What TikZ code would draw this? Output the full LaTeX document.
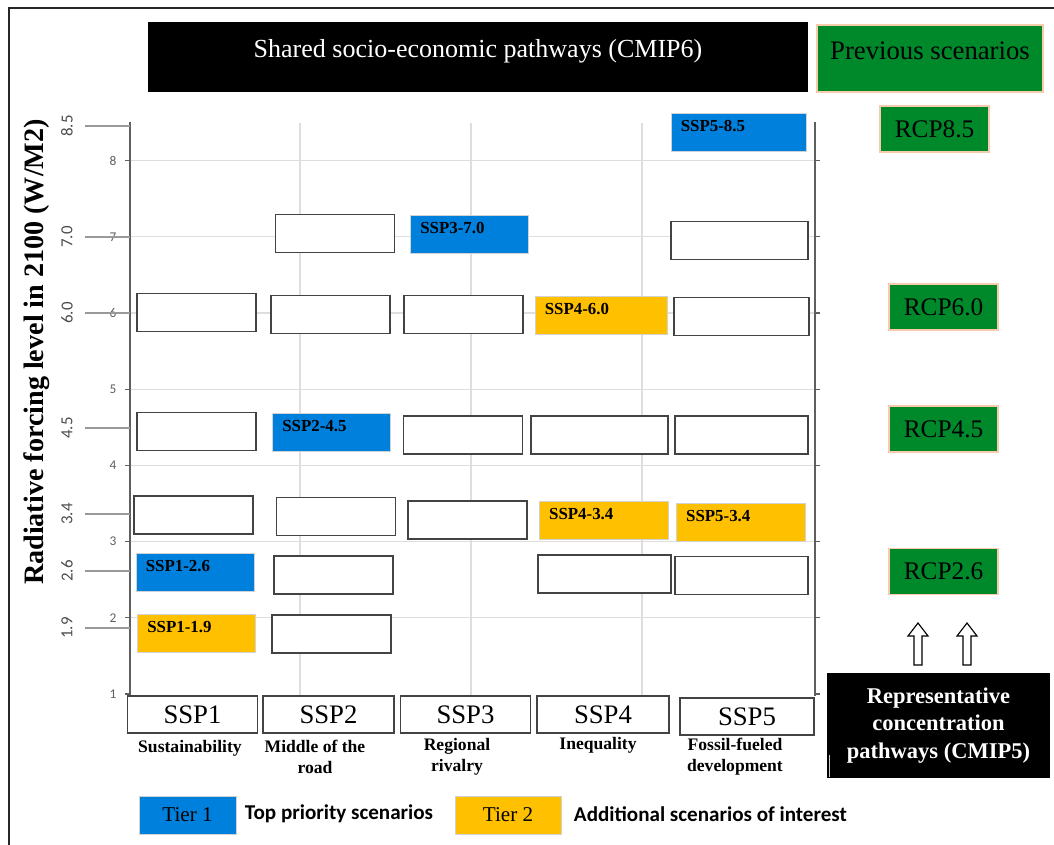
\documentclass[tikz,border=0pt]{standalone}
\usepackage{fontspec}
\setmainfont{Liberation Serif}
\newfontfamily\calibri{Carlito}
\usetikzlibrary{positioning}

\definecolor{tierblue}{RGB}{0,128,221}
\definecolor{tierorange}{RGB}{255,192,0}
\definecolor{rcpgreen}{RGB}{0,137,43}
\definecolor{peach}{RGB}{248,203,173}
\definecolor{gridgray}{RGB}{222,222,222}
\definecolor{axisgray}{RGB}{95,95,95}

\newcommand\boxfont{\fontsize{12}{14}\selectfont\bfseries}
\newcommand\sspfont{\fontsize{19}{22}\selectfont}
\newcommand\subfont{\fontsize{12.5}{15}\selectfont\bfseries}

\tikzset{
	emptybox/.style={draw=axisgray!70!black, line width=0.9pt, fill=white,
		minimum width=2.975cm, minimum height=0.95cm, inner sep=0pt},
	widebox/.style={emptybox, minimum width=3.325cm},
	tierbox/.style={draw=gray!35, line width=0.5pt, minimum height=0.95cm,
		inner xsep=7pt, text width=#1, align=left, text depth=9pt, font=\boxfont},
	tierone/.style={tierbox=#1, fill=tierblue},
	tierone/.default=70pt,
	tiertwo/.style={tierbox=#1, fill=tierorange},
	tiertwo/.default=70pt,
	sspbox/.style={draw=axisgray!70!black, line width=0.9pt, minimum width=3.25cm,
		minimum height=0.925cm, font=\sspfont},
	sublabel/.style={align=center, font=\subfont, inner sep=0pt},
	rcpbox/.style={fill=rcpgreen, draw=peach, line width=1pt, minimum width=2.725cm,
		minimum height=1.15cm, font=\fontsize{18}{21}\selectfont},
	ticklabel/.style={text=axisgray, font=\calibri\fontsize{9.5}{11}\selectfont},
	valuelabel/.style={rotate=90, text=axisgray!80!black, font=\calibri\fontsize{12}{14}\selectfont},
	valueline/.style={draw=gray!80, line width=1.1pt},
	legendtext/.style={anchor=west, font=\calibri\fontsize{15}{17}\selectfont\bfseries}
}

\begin{document}
\begin{tikzpicture}[x=0.025cm, y=-0.025cm]
	\useasboundingbox (0,0) rectangle (1054,845);

	% frame
	\draw[line width=1.8pt, black!85] (1054,8) -- (9,8) -- (9,845);

	% chart grid
	\foreach \v in {2,...,8}
		\draw[gridgray, line width=0.8pt] (130,{694-(\v-1)*76.2}) -- (815,{694-(\v-1)*76.2});
	\foreach \x in {300,471,642}
		\draw[gridgray, line width=0.8pt] (\x,123) -- (\x,695);

	% axes
	\draw[axisgray, line width=0.8pt] (130,122) -- (130,696);
	\draw[axisgray, line width=0.8pt] (815,122) -- (815,696);
	\foreach \v in {1,...,8} {
		\draw[axisgray, line width=0.8pt] (125,{694-(\v-1)*76.2}) -- (130,{694-(\v-1)*76.2});
		\draw[axisgray, line width=0.8pt] (815,{694-(\v-1)*76.2}) -- (820,{694-(\v-1)*76.2});
		\node[ticklabel] (tick\v) at (113,{694-(\v-1)*76.2}) {\v};
	}

	% forcing levels
	\foreach \v/\y [count=\i] in {8.5/126, 7.0/237, 6.0/313, 4.5/428, 3.4/514, 2.6/571, 1.9/628} {
		\draw[valueline] (85,\y) -- (130,\y);
		\node[valuelabel] (level\i) at (67,\y) {\v};
	}
	\node[rotate=90, font=\fontsize{20}{24}\selectfont\bfseries] (ytitle) at (37,352)
		{Radiative forcing level in 2100 (W/M2)};

	% header
	\node[fill=black, text=white, minimum width=16.5cm, minimum height=1.75cm,
		text depth=12pt, font=\fontsize{18.5}{22}\selectfont] (cmip6) at (478,57)
		{Shared socio-economic pathways (CMIP6)};
	\node[rcpbox, minimum width=5.65cm, minimum height=1.675cm, text depth=10.5pt,
		font=\fontsize{19}{22}\selectfont] (prev) at (930,58.5) {Previous scenarios};

	% SSP1
	\node[emptybox] (s1-60) at (196.5,312.5) {};
	\node[emptybox] (s1-45) at (196.5,431.5) {};
	\node[emptybox] (s1-34) at (193.5,515) {};
	\node[tierone] (s1-26) at (195,572.5) {SSP1-2.6};
	\node[tiertwo] (s1-19) at (196.5,633) {SSP1-1.9};

	% SSP2
	\node[emptybox] (s2-70) at (335,233.5) {};
	\node[emptybox] (s2-60) at (330.5,314.5) {};
	\node[tierone] (s2-45) at (331.5,432) {SSP2-4.5};
	\node[emptybox] (s2-34) at (336,516.5) {};
	\node[emptybox] (s2-26) at (333.5,575) {};
	\node[emptybox] (s2-19) at (331.5,634) {};

	% SSP3
	\node[tierone] (s3-70) at (469.5,234.5) {SSP3-7.0};
	\node[emptybox] (s3-60) at (463.5,314.5) {};
	\node[emptybox] (s3-45) at (463,435) {};
	\node[emptybox] (s3-34) at (467.5,520) {};

	% SSP4
	\node[tiertwo=80pt] (s4-60) at (601,315.5) {SSP4-6.0};
	\node[widebox, minimum width=3.425cm] (s4-45) at (599.5,435) {};
	\node[tiertwo=78pt] (s4-34) at (604,520) {SSP4-3.4};
	\node[widebox] (s4-26) at (604.5,574) {};

	% SSP5
	\node[tierone=82pt] (s5-85) at (738.5,132) {SSP5-8.5};
	\node[widebox, minimum width=3.425cm] (s5-70) at (739.5,240.5) {};
	\node[widebox, minimum width=3.375cm] (s5-60) at (741.5,316.5) {};
	\node[widebox] (s5-45) at (741.5,435) {};
	\node[tiertwo=78pt] (s5-34) at (741,522.5) {SSP5-3.4};
	\node[widebox] (s5-26) at (741.5,575.5) {};

	% pathways
	\node[sspbox] (ssp1) at (192.5,714.5) {SSP1};
	\node[sspbox, minimum width=3.275cm] (ssp2) at (328.5,714.5) {SSP2};
	\node[sspbox] (ssp3) at (465.5,714.5) {SSP3};
	\node[sspbox, minimum width=3.3cm] (ssp4) at (603,714.5) {SSP4};
	\node[sspbox, minimum width=3.35cm] (ssp5) at (747,716.5) {SSP5};

	\node[sublabel, anchor=north] (sub1) at (190,740) {Sustainability};
	\node[sublabel, anchor=north] (sub2) at (315,740) {Middle of the\\road};
	\node[sublabel, anchor=north] (sub3) at (457,738) {Regional\\rivalry};
	\node[sublabel, anchor=north] (sub4) at (598,737) {Inequality};
	\node[sublabel, anchor=north] (sub5) at (735,738) {Fossil-fueled\\development};

	% previous scenarios
	\node[rcpbox] (rcp85) at (934.5,129) {RCP8.5};
	\node[rcpbox] (rcp60) at (943.5,307) {RCP6.0};
	\node[rcpbox] (rcp45) at (943.5,429) {RCP4.5};
	\node[rcpbox] (rcp26) at (943.5,571.5) {RCP2.6};

	\foreach \cx in {918,967}
		\filldraw[fill=white, draw=black, line width=0.8pt]
			(\cx,623) -- ++(10,13) -- ++(-6,0) -- ++(0,29) -- ++(-8,0) -- ++(0,-29) -- ++(-6,0) -- cycle;

	\node[fill=black, text=white, minimum width=5.575cm, minimum height=2.625cm, align=center,
		font=\fontsize{16}{19.5}\selectfont\bfseries] (cmip5) at (938.5,725.5)
		{Representative\\concentration\\pathways (CMIP5)};
	\draw[white!80!black, line width=0.6pt] (829,755) -- (829,777);

	% legend
	\node[fill=tierblue, draw=gray!35, minimum width=2.425cm, minimum height=0.95cm,
		text depth=0pt, font=\fontsize{15}{18}\selectfont] (tier1) at (187.5,815) {Tier 1};
	\node[legendtext] (tier1text) at (240,814) {Top priority scenarios};
	\node[fill=tierorange, draw=gray!35, minimum width=2.65cm, minimum height=0.95cm,
		text depth=0pt, font=\fontsize{15}{18}\selectfont] (tier2) at (508,815) {Tier 2};
	\node[legendtext] (tier2text) at (569,814) {Additional scenarios of interest};
\end{tikzpicture}
\end{document}
